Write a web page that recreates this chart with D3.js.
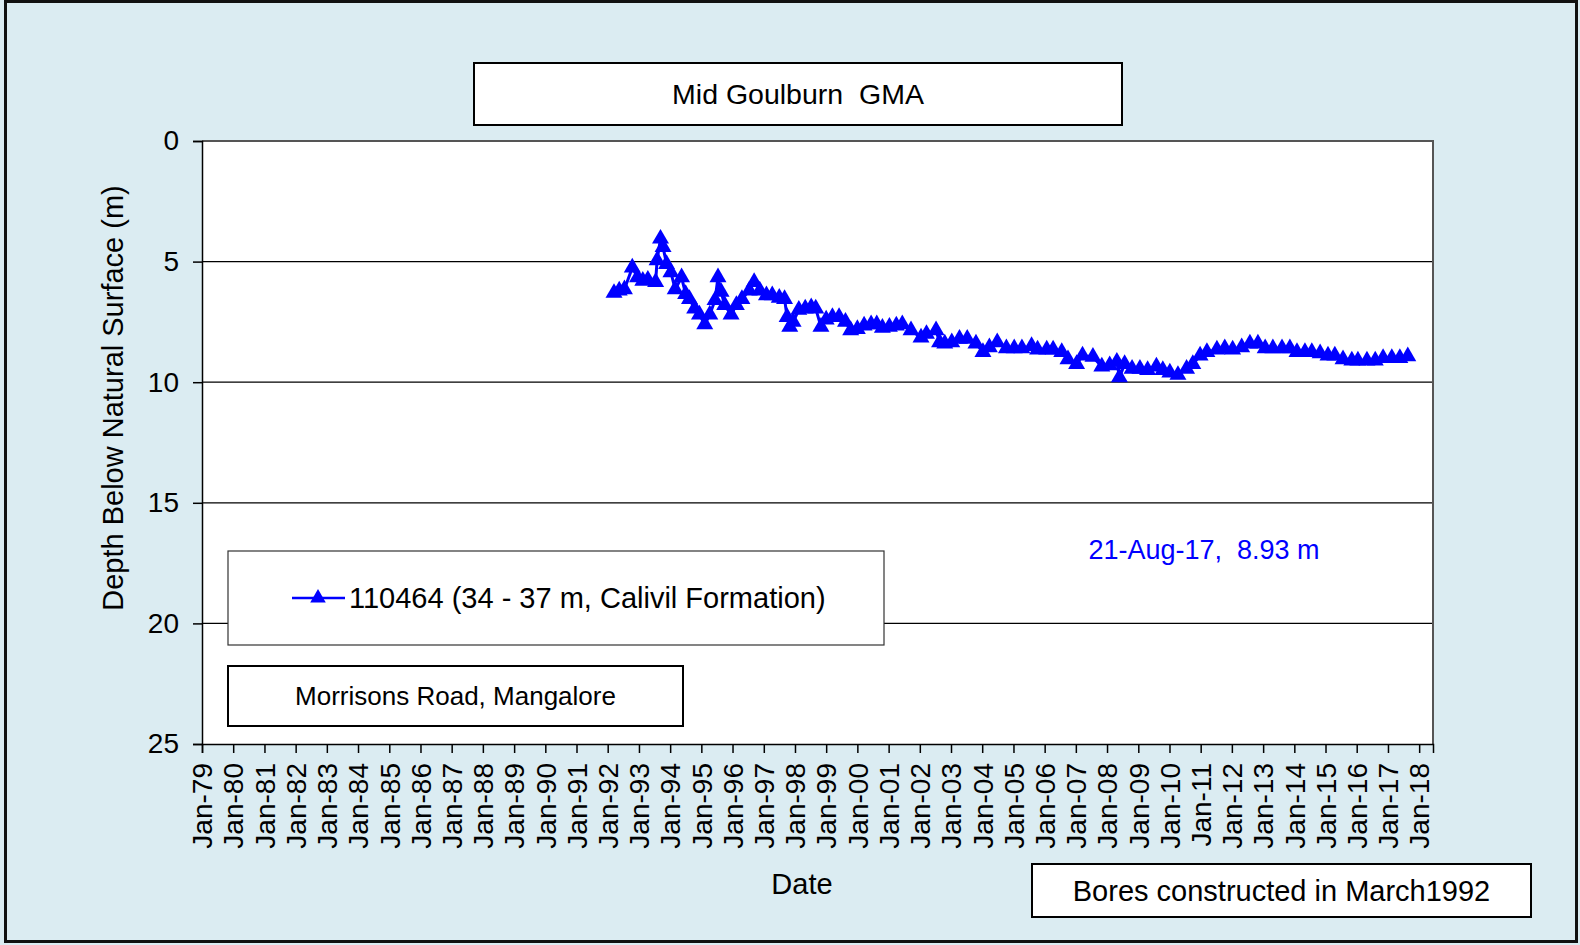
<!DOCTYPE html>
<html>
<head>
<meta charset="utf-8">
<script src="https://cdn.jsdelivr.net/npm/d3@7"></script>
<style>
  body { margin: 0; background: #dbecf2; }
  text { font-family: "Liberation Sans", Arial, sans-serif; white-space: pre; }
</style>
</head>
<body>
<script>
// bore 110464 readings (depth below natural surface, m)
const readDates = [
  '1992-03-15','1992-05-15','1992-07-15','1992-10-15','1992-12-15','1993-02-15','1993-04-15','1993-07-15',
  '1993-08-01','1993-09-10','1993-10-10','1993-11-20','1994-01-10','1994-03-01','1994-05-15','1994-07-01',
  '1994-08-15','1994-10-15','1994-12-10','1995-02-10','1995-04-10','1995-06-10','1995-07-15','1995-08-20',
  '1995-10-01','1995-12-15','1996-02-15','1996-04-20','1996-07-15','1996-09-10','1996-11-15','1997-02-01',
  '1997-04-10','1997-07-01','1997-09-01','1997-10-01','1997-11-01','1997-12-10','1998-02-15','1998-05-01',
  '1998-07-10','1998-09-01','1998-11-01','1999-01-01','1999-03-15','1999-06-01','1999-08-15','1999-10-15',
  '2000-01-01','2000-03-20','2000-06-10','2000-08-15','2000-10-20','2001-01-10','2001-04-01','2001-06-10',
  '2001-09-20','2002-01-15','2002-03-20','2002-07-10','2002-08-20','2002-10-20','2003-01-10','2003-04-10',
  '2003-07-10','2003-10-20','2004-01-10','2004-03-25','2004-06-25','2004-10-10','2005-01-10','2005-04-10',
  '2005-08-01','2005-10-10','2006-01-25','2006-04-10','2006-07-20','2006-10-01','2007-01-10','2007-03-20',
  '2007-07-20','2007-11-01','2008-02-01','2008-04-25','2008-05-25','2008-07-25','2008-10-20','2009-01-20',
  '2009-04-20','2009-08-01','2009-10-15','2010-01-05','2010-04-10','2010-07-20','2010-10-01','2010-12-25',
  '2011-03-15','2011-07-10','2011-10-10','2012-01-10','2012-04-25','2012-07-30','2012-11-01','2013-01-25',
  '2013-04-25','2013-08-10','2013-11-10','2014-02-01','2014-05-05','2014-07-25','2014-10-30','2015-01-30',
  '2015-04-20','2015-07-25','2015-11-05','2016-01-15','2016-04-30','2016-08-05','2016-11-05','2017-02-15',
  '2017-05-20','2017-08-21'
];
const depths = [
  6.3, 6.2, 6.15, 5.25, 5.65, 5.8, 5.75, 5.85,
  4.95, 4.05, 4.4, 5.1, 5.45, 6.15, 5.65, 6.35,
  6.55, 6.95, 7.2, 7.6, 7.2, 6.6, 5.65, 6.25,
  6.8, 7.2, 6.8, 6.55, 6.2, 5.85, 6.2, 6.4,
  6.4, 6.5, 6.55, 7.3, 7.7, 7.5, 7.0, 6.95,
  6.9, 6.95, 7.7, 7.4, 7.3, 7.3, 7.5, 7.85,
  7.8, 7.65, 7.6, 7.6, 7.75, 7.7, 7.65, 7.6,
  7.85, 8.15, 8.0, 7.85, 8.35, 8.4, 8.35, 8.2,
  8.2, 8.4, 8.75, 8.55, 8.35, 8.6, 8.6, 8.6,
  8.5, 8.65, 8.65, 8.65, 8.75, 9.05, 9.25, 8.9,
  8.95, 9.35, 9.3, 9.15, 9.8, 9.25, 9.45, 9.45,
  9.5, 9.35, 9.5, 9.6, 9.7, 9.45, 9.25, 8.9,
  8.75, 8.65, 8.6, 8.65, 8.55, 8.4, 8.4, 8.6,
  8.6, 8.6, 8.6, 8.75, 8.75, 8.75, 8.8, 8.9,
  8.9, 9.05, 9.1, 9.1, 9.1, 9.1, 9.0, 9.0,
  9.0, 8.93
];
const yTicks = [0, 5, 10, 15, 20, 25];
const tickYears = d3.range(1979, 2019);

const seriesName = '110464 (34 - 37 m, Calivil Formation)';
const lastLabel = '21-Aug-17,  8.93 m';

const parseDate = d3.timeParse('%Y-%m-%d');
const data = readDates.map((d, i) => ({ date: parseDate(d), depth: depths[i] }));

const width = 1580;
const height = 945;
const plot = { left: 202, top: 141, right: 1433, bottom: 744 };

const svg = d3.select('body').append('svg')
    .attr('width', width)
    .attr('height', height);

// outer frame
svg.append('rect')
    .attr('x', 5.5).attr('y', 1.5)
    .attr('width', 1571).attr('height', 940)
    .attr('fill', '#dbecf2')
    .attr('stroke', '#111')
    .attr('stroke-width', 3);

const xScale = d3.scaleTime()
    .domain([new Date(1979, 0, 1), new Date(2018, 5, 12)])
    .range([plot.left, plot.right]);

const yScale = d3.scaleLinear()
    .domain([0, 25])
    .range([plot.top, plot.bottom]);

// plot area
svg.append('rect')
    .attr('x', plot.left).attr('y', plot.top)
    .attr('width', plot.right - plot.left)
    .attr('height', plot.bottom - plot.top)
    .attr('fill', 'white');

svg.append('g')
    .selectAll('line')
    .data(yTicks.filter(d => d > 0 && d < 25))
    .enter()
    .append('line')
    .attr('x1', plot.left).attr('x2', plot.right)
    .attr('y1', d => yScale(d)).attr('y2', d => yScale(d))
    .attr('stroke', '#000')
    .attr('stroke-width', 1.2);

svg.append('path')
    .attr('d', `M${plot.left},${plot.top}H${plot.right}V${plot.bottom}`)
    .attr('fill', 'none')
    .attr('stroke', '#555')
    .attr('stroke-width', 2);

const yAxis = d3.axisLeft(yScale)
    .tickValues(yTicks)
    .tickSize(9)
    .tickPadding(14);

svg.append('g')
    .attr('id', 'y-axis')
    .attr('transform', `translate(${plot.left}, 0)`)
    .call(yAxis)
    .call(g => g.select('.domain').attr('stroke', '#000').attr('stroke-width', 1.5))
    .call(g => g.selectAll('.tick line').attr('stroke', '#000').attr('stroke-width', 1.5))
    .selectAll('text')
    .style('font-size', '28px')
    .style('fill', '#000');

const xAxis = d3.axisBottom(xScale)
    .tickValues(tickYears.map(y => new Date(y, 0, 1)))
    .tickFormat(d3.timeFormat('%b-%y'))
    .tickSize(9);

svg.append('g')
    .attr('id', 'x-axis')
    .attr('transform', `translate(0, ${plot.bottom})`)
    .call(xAxis)
    .call(g => g.select('.domain').attr('stroke', '#000').attr('stroke-width', 1.5))
    .call(g => g.selectAll('.tick line').attr('stroke', '#000').attr('stroke-width', 1.5))
    .selectAll('text')
    .attr('transform', 'rotate(-90)')
    .attr('x', -19)
    .attr('y', 0)
    .attr('dy', '0.35em')
    .attr('text-anchor', 'end')
    .style('font-size', '28px')
    .style('fill', '#000');

// series
const line = d3.line()
    .x(d => xScale(d.date))
    .y(d => yScale(d.depth));

svg.append('path')
    .datum(data)
    .attr('d', line)
    .attr('fill', 'none')
    .attr('stroke', '#0000ff')
    .attr('stroke-width', 3);

const tri = d3.symbol().type(d3.symbolTriangle).size(125);

svg.append('g')
    .selectAll('path')
    .data(data)
    .enter()
    .append('path')
    .attr('d', tri)
    .attr('transform', d => `translate(${xScale(d.date)}, ${yScale(d.depth)})`)
    .attr('fill', '#0000ff');

// boxes
function textBox(x, y, w, h, label, size) {
    svg.append('rect')
        .attr('x', x).attr('y', y)
        .attr('width', w).attr('height', h)
        .attr('fill', 'white')
        .attr('stroke', '#000')
        .attr('stroke-width', 2);
    svg.append('text')
        .attr('x', x + w / 2)
        .attr('y', y + h / 2)
        .attr('dy', '0.35em')
        .attr('text-anchor', 'middle')
        .style('font-size', size + 'px')
        .text(label);
}

textBox(474, 63, 648, 62, 'Mid Goulburn  GMA', 28.5);
textBox(228, 666, 455, 60, 'Morrisons Road, Mangalore', 26);
textBox(1032, 864, 499, 53, 'Bores constructed in March1992', 29);

// legend
svg.append('rect')
    .attr('x', 228).attr('y', 551)
    .attr('width', 656).attr('height', 94)
    .attr('fill', 'white')
    .attr('stroke', '#333')
    .attr('stroke-width', 1.2);

svg.append('line')
    .attr('x1', 292).attr('x2', 345)
    .attr('y1', 598).attr('y2', 598)
    .attr('stroke', '#0000ff')
    .attr('stroke-width', 2.5);

svg.append('path')
    .attr('d', d3.symbol().type(d3.symbolTriangle).size(105))
    .attr('transform', 'translate(318, 598)')
    .attr('fill', '#0000ff');

svg.append('text')
    .attr('x', 349)
    .attr('y', 598)
    .attr('dy', '0.35em')
    .style('font-size', '29px')
    .text(seriesName);

// latest reading note
svg.append('text')
    .attr('x', 1204)
    .attr('y', 550)
    .attr('dy', '0.35em')
    .attr('text-anchor', 'middle')
    .style('font-size', '27px')
    .style('fill', '#0000ff')
    .text(lastLabel);

// axis titles
svg.append('text')
    .attr('transform', 'translate(113, 398) rotate(-90)')
    .attr('dy', '0.35em')
    .attr('text-anchor', 'middle')
    .style('font-size', '29px')
    .text('Depth Below Natural Surface (m)');

svg.append('text')
    .attr('x', 802)
    .attr('y', 884)
    .attr('dy', '0.35em')
    .attr('text-anchor', 'middle')
    .style('font-size', '29px')
    .text('Date');
</script>
</body>
</html>
